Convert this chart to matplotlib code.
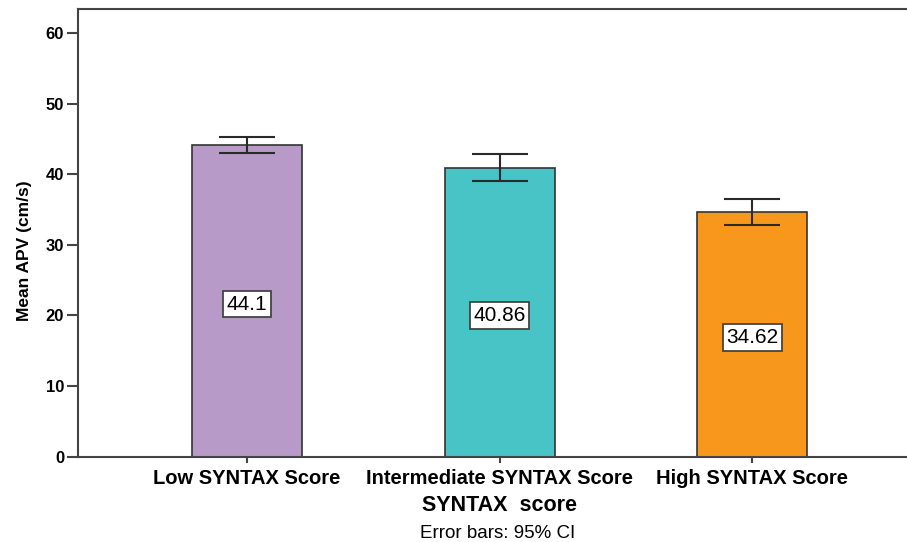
import matplotlib.pyplot as plt
import numpy as np

categories = ['Low SYNTAX Score', 'Intermediate SYNTAX Score', 'High SYNTAX Score']
means = [44.1, 40.86, 34.62]
ci_low = [43.05, 39.05, 32.8]
ci_high = [45.3, 42.85, 36.55]
colors = ['#B79AC8', '#48C3C6', '#F7981D']

plt.rcParams['font.family'] = ['Liberation Sans', 'DejaVu Sans']

fig = plt.figure(figsize=(9.07, 5.42), dpi=100)
ax = fig.add_axes([0.086, 0.1574, 0.9295, 0.8260])

x = np.arange(len(categories))
yerr = [np.array(means) - np.array(ci_low), np.array(ci_high) - np.array(means)]
ax.bar(x, means, width=0.435, color=colors, edgecolor='#333333', linewidth=1.2, zorder=2)
ax.errorbar(x, means, yerr=yerr, fmt='none', ecolor='#2a2a2a', elinewidth=1.5,
            capsize=20.5, capthick=1.5, zorder=3)

for xi, v in zip(x, means):
    ax.text(xi, v / 2 - 0.45, f'{v:g}', ha='center', va='center', fontsize=15,
            bbox=dict(boxstyle='square,pad=0.18', facecolor='white', edgecolor='#444444', linewidth=1.3),
            zorder=4)

ax.set_xlim(-0.667, 2.667)
ax.set_ylim(0, 63.4)
ax.set_yticks([0, 10, 20, 30, 40, 50, 60])
ax.set_xticks(x)
ax.set_xticklabels(categories, fontsize=14.5, fontweight='bold')
for lab in ax.get_yticklabels():
    lab.set_fontsize(12)
    lab.set_fontweight('bold')
ax.tick_params(axis='y', length=8, width=1.5, color='#444444', pad=2)
ax.tick_params(axis='x', length=4, width=1.5, color='#444444', pad=5)
for s in ax.spines.values():
    s.set_color('#444444')
    s.set_linewidth(1.5)

ax.set_xlabel('SYNTAX  score', fontsize=15.5, fontweight='bold', labelpad=5)
ax.set_ylabel('Mean APV (cm/s)', fontsize=12.5, fontweight='bold')
ax.yaxis.set_label_coords(-0.055, 0.46)
fig.text(0.549, 0.0166, 'Error bars: 95% CI', ha='center', va='center', fontsize=13.5)

fig.savefig('out.png', dpi=100)
